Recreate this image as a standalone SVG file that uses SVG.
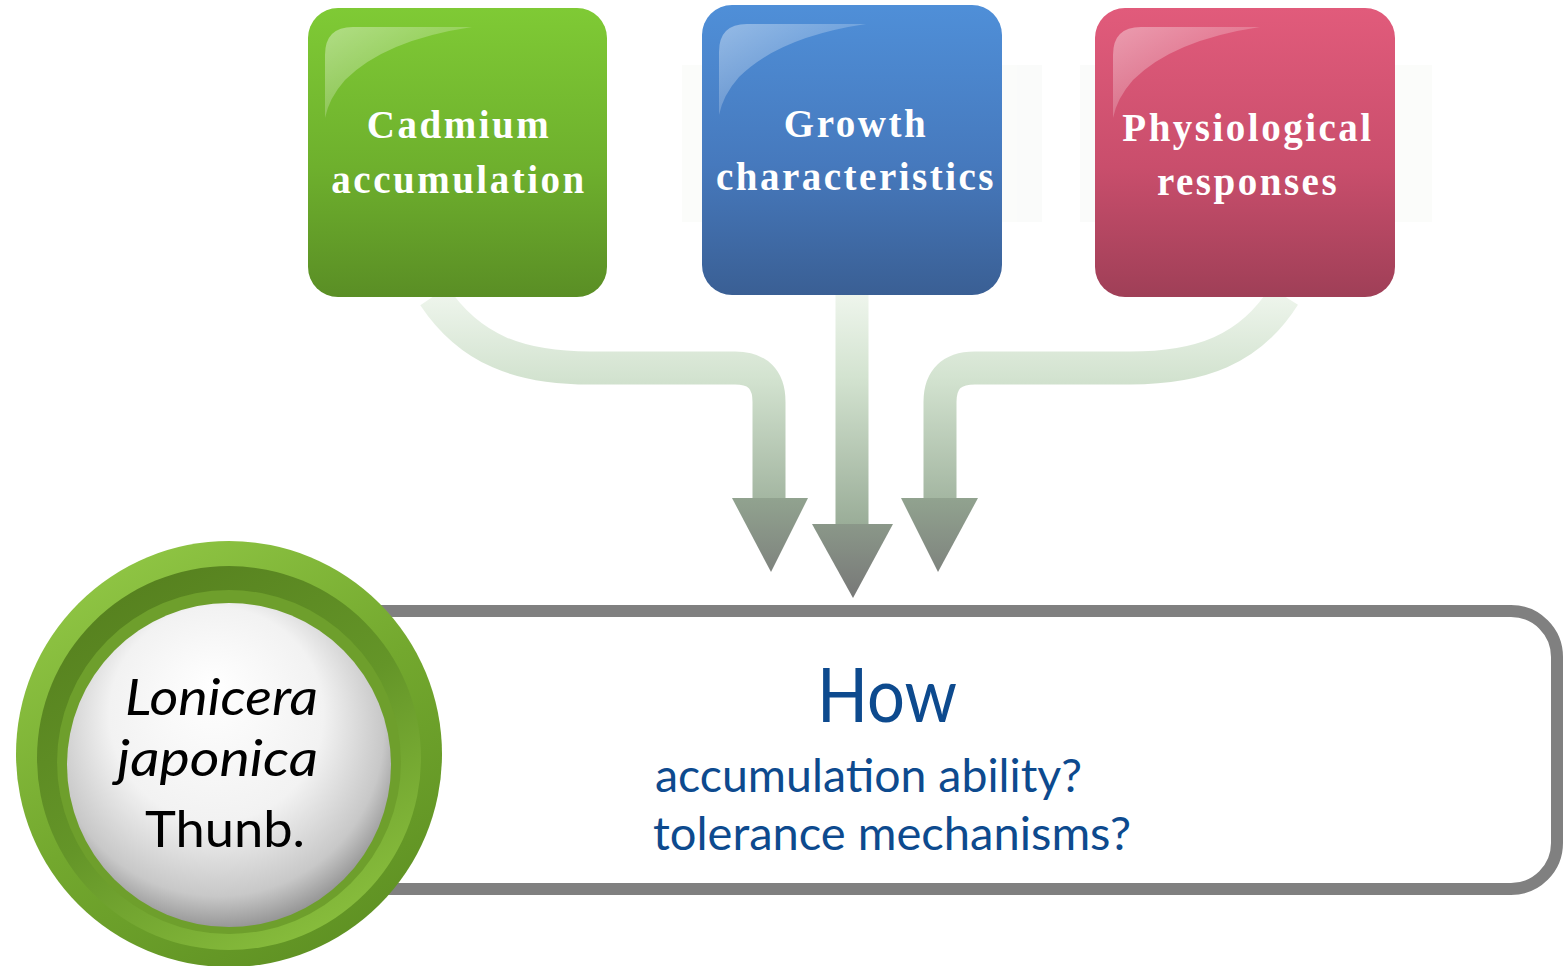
<svg xmlns="http://www.w3.org/2000/svg" width="1563" height="966" viewBox="0 0 1563 966">
  <style>
    .boxText { font-family: "Liberation Serif", "Times New Roman", serif; font-weight: bold; font-size: 39px; fill: #ffffff; letter-spacing: 2.5px; text-anchor: middle; }
    .species { font-family: Lato, "Liberation Sans", sans-serif; font-size: 50px; fill: #000000; }
    .question { font-family: Lato, "Liberation Sans", sans-serif; fill: #0d4a8e; }
    .shaft { fill: none; stroke: url(#shaftGrad); stroke-width: 33; }
    .head { fill: url(#headGrad); }
  </style>
  <defs>
    <linearGradient id="greenFill" x1="0" y1="0" x2="0" y2="1">
      <stop offset="0" stop-color="#7fca35"/>
      <stop offset="0.55" stop-color="#6eb02d"/>
      <stop offset="1" stop-color="#5a8e25"/>
    </linearGradient>
    <linearGradient id="blueFill" x1="0" y1="0" x2="0" y2="1">
      <stop offset="0" stop-color="#4f8fd8"/>
      <stop offset="0.55" stop-color="#4679bd"/>
      <stop offset="1" stop-color="#3a5f94"/>
    </linearGradient>
    <linearGradient id="redFill" x1="0" y1="0" x2="0" y2="1">
      <stop offset="0" stop-color="#e15b7b"/>
      <stop offset="0.55" stop-color="#c94e6c"/>
      <stop offset="1" stop-color="#9f3f57"/>
    </linearGradient>
    <linearGradient id="gloss" x1="0" y1="0" x2="1" y2="1">
      <stop offset="0" stop-color="#ffffff" stop-opacity="0.4"/>
      <stop offset="1" stop-color="#ffffff" stop-opacity="0"/>
    </linearGradient>
    <linearGradient id="shaftGrad" gradientUnits="userSpaceOnUse" x1="0" y1="295" x2="0" y2="530">
      <stop offset="0" stop-color="#eef5ec"/>
      <stop offset="0.35" stop-color="#d3e3d0"/>
      <stop offset="1" stop-color="#98ab96"/>
    </linearGradient>
    <linearGradient id="headGrad" gradientUnits="userSpaceOnUse" x1="0" y1="495" x2="0" y2="600">
      <stop offset="0" stop-color="#92a490"/>
      <stop offset="1" stop-color="#777777"/>
    </linearGradient>
    <linearGradient id="ringOuter" x1="0.2" y1="0" x2="0.8" y2="1">
      <stop offset="0" stop-color="#92c846"/>
      <stop offset="0.5" stop-color="#73a82e"/>
      <stop offset="1" stop-color="#5d8f22"/>
    </linearGradient>
    <linearGradient id="ringInner" x1="0.2" y1="0" x2="0.8" y2="1">
      <stop offset="0" stop-color="#557f1e"/>
      <stop offset="0.5" stop-color="#649528"/>
      <stop offset="1" stop-color="#8cc23f"/>
    </linearGradient>
    <radialGradient id="pearl" cx="0.47" cy="0.42" r="0.6" fx="0.45" fy="0.25">
      <stop offset="0" stop-color="#ffffff"/>
      <stop offset="0.55" stop-color="#f2f2f2"/>
      <stop offset="0.85" stop-color="#c8c8c8"/>
      <stop offset="1" stop-color="#8e8e8e"/>
    </radialGradient>
  </defs>

  <rect width="1563" height="966" fill="#ffffff"/>

  <!-- faint reflection band behind the topic boxes -->
  <g opacity="0.25">
    <rect x="682" y="65" width="360" height="157" fill="#eef2ec"/>
    <rect x="1080" y="65" width="352" height="157" fill="#eef2ec"/>
  </g>

  <!-- question panel -->
  <g id="question-panel">
    <rect x="300" y="611" width="1257" height="278" rx="46" ry="46" fill="#ffffff" stroke="#808080" stroke-width="12"/>
    <text class="question" x="887" y="722" font-size="76" text-anchor="middle" textLength="140" lengthAdjust="spacingAndGlyphs">How</text>
    <text class="question" x="655" y="792" font-size="46" textLength="427" lengthAdjust="spacingAndGlyphs">accumulation ability?</text>
    <text class="question" x="653" y="850" font-size="46" textLength="478" lengthAdjust="spacingAndGlyphs">tolerance mechanisms?</text>
  </g>

  <!-- connectors -->
  <g id="connectors">
    <path class="shaft" d="M 434 296 C 470 350 520 368 590 368 L 735 368 Q 769 368 769 402 L 769 500"/>
    <path class="shaft" d="M 852 294 L 852 526"/>
    <path class="shaft" d="M 1284 296 C 1250 350 1200 368 1130 368 L 975 368 Q 940 368 940 402 L 940 500"/>
    <polygon class="head" points="732,498 808,498 771,572"/>
    <polygon class="head" points="812,524 893,524 853,598"/>
    <polygon class="head" points="901,498 978,498 938,572"/>
  </g>

  <!-- topic boxes -->
  <g id="box-cadmium">
    <rect x="308" y="8" width="299" height="289" rx="30" ry="30" fill="url(#greenFill)"/>
    <path d="M 325 118 L 325 55 Q 325 27 353 27 L 472 27 Q 385 40 345 80 Q 329 98 325 118 Z" fill="url(#gloss)"/>
    <text class="boxText" x="459" y="138">Cadmium</text>
    <text class="boxText" x="459" y="193">accumulation</text>
  </g>

  <g id="box-growth">
    <rect x="702" y="5" width="300" height="290" rx="30" ry="30" fill="url(#blueFill)"/>
    <path d="M 719 115 L 719 52 Q 719 24 747 24 L 866 24 Q 779 37 739 77 Q 723 95 719 115 Z" fill="url(#gloss)"/>
    <text class="boxText" x="856" y="137">Growth</text>
    <text class="boxText" x="856" y="190">characteristics</text>
  </g>

  <g id="box-physiological">
    <rect x="1095" y="8" width="300" height="289" rx="30" ry="30" fill="url(#redFill)"/>
    <path d="M 1113 118 L 1113 55 Q 1113 27 1141 27 L 1260 27 Q 1173 40 1133 80 Q 1117 98 1113 118 Z" fill="url(#gloss)"/>
    <text class="boxText" x="1248" y="141">Physiological</text>
    <text class="boxText" x="1248" y="195">responses</text>
  </g>

  <!-- species badge -->
  <g id="species-badge">
    <circle cx="229" cy="754" r="213" fill="url(#ringOuter)"/>
    <circle cx="229" cy="758" r="192" fill="url(#ringInner)"/>
    <circle cx="229" cy="762" r="172" fill="#6e9f2c"/>
    <circle cx="229" cy="765" r="162" fill="url(#pearl)"/>
    <text class="species" x="125" y="715" font-style="italic" textLength="193" lengthAdjust="spacingAndGlyphs">Lonicera</text>
    <text class="species" x="117" y="776" font-style="italic" textLength="201" lengthAdjust="spacingAndGlyphs">japonica</text>
    <text class="species" x="145" y="847" textLength="160" lengthAdjust="spacingAndGlyphs">Thunb.</text>
  </g>
</svg>
